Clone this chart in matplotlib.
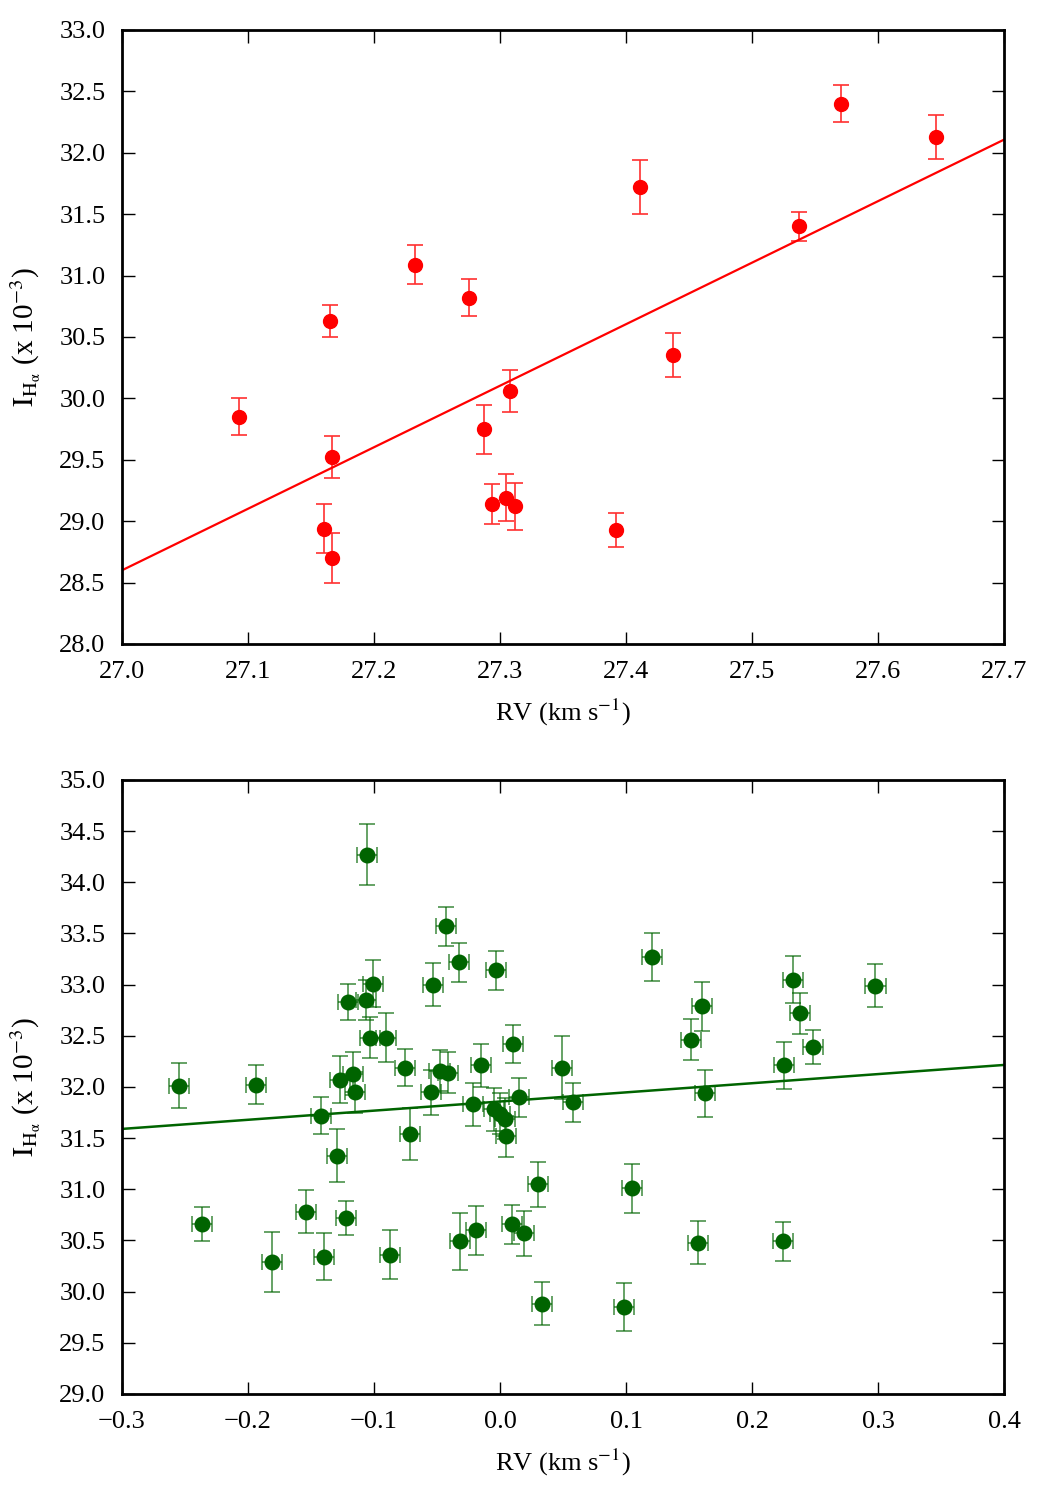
import numpy as np
import matplotlib
matplotlib.use("Agg")
import matplotlib.pyplot as plt

plt.rcParams['font.family'] = ['Liberation Serif', 'DejaVu Serif']
plt.rcParams['mathtext.fontset'] = 'stix'

# top panel: RV (km/s) vs I_Halpha (x 1e-3)
rv_top = [27.093, 27.165, 27.167, 27.160, 27.167, 27.2325, 27.275, 27.287, 27.294,
          27.305, 27.308, 27.312, 27.392, 27.411, 27.437, 27.537, 27.571, 27.646]
ih_top = [29.85, 30.63, 29.52, 28.94, 28.70, 31.09, 30.82, 29.75, 29.14,
          29.19, 30.06, 29.12, 28.93, 31.72, 30.35, 31.40, 32.40, 32.13]
ih_top_err = [0.15, 0.13, 0.17, 0.20, 0.20, 0.16, 0.15, 0.20, 0.16,
              0.19, 0.17, 0.19, 0.14, 0.22, 0.18, 0.12, 0.15, 0.18]
fit_top = [5.01, 28.60]   # slope, value at x0
x0_top = 27.0

# bottom panel: RV residuals
rv_bot = [-0.255, -0.2363, -0.1934, -0.1807, -0.1537, -0.1424, -0.140, -0.1297, -0.127,
          -0.122, -0.1206, -0.117, -0.115, -0.1063, -0.1053, -0.1032, -0.101, -0.0907,
          -0.087, -0.0754, -0.0714, -0.055, -0.0529, -0.048, -0.0431, -0.041, -0.0325,
          -0.0317, -0.0212, -0.0188, -0.0153, -0.005, 0.000, 0.004, 0.0048, -0.0029,
          0.0098, 0.0106, 0.0148, 0.0193, 0.0299, 0.0333, 0.0490, 0.0577, 0.0984,
          0.1048, 0.1204, 0.1513, 0.1574, 0.1601, 0.1627, 0.2243, 0.2256, 0.2325,
          0.2381, 0.2487, 0.298]
ih_bot = [32.01, 30.66, 32.02, 30.29, 30.78, 31.72, 30.34, 31.33, 32.07,
          30.72, 32.83, 32.13, 31.95, 32.85, 34.27, 32.48, 33.01, 32.48,
          30.36, 32.19, 31.54, 31.95, 33.00, 32.16, 33.57, 32.14, 33.22,
          30.49, 31.83, 30.60, 32.21, 31.78, 31.74, 31.69, 31.52, 33.14,
          30.66, 32.42, 31.90, 30.57, 31.05, 29.88, 32.19, 31.85, 29.85,
          31.01, 33.27, 32.46, 30.48, 32.79, 31.94, 30.49, 32.21, 33.05,
          32.72, 32.39, 32.99]
ih_bot_err = [0.22, 0.17, 0.19, 0.29, 0.21, 0.18, 0.23, 0.26, 0.23,
              0.17, 0.18, 0.21, 0.20, 0.20, 0.30, 0.20, 0.23, 0.24,
              0.24, 0.18, 0.25, 0.22, 0.21, 0.20, 0.19, 0.20, 0.19,
              0.28, 0.21, 0.24, 0.21, 0.21, 0.20, 0.20, 0.20, 0.19,
              0.19, 0.19, 0.19, 0.22, 0.22, 0.21, 0.31, 0.19, 0.23,
              0.24, 0.23, 0.20, 0.21, 0.24, 0.23, 0.19, 0.23, 0.23,
              0.20, 0.17, 0.21]
rv_bot_err = 0.008
fit_bot = [0.893, 31.858]  # slope, value at x0
x0_bot = 0.0

fig = plt.figure(figsize=(10.5, 15), dpi=100)
ax1 = fig.add_axes([0.1162, 0.5707, 0.84, 0.4093])
ax2 = fig.add_axes([0.1162, 0.0707, 0.84, 0.4093])

ylab = r'$\mathrm{I_{H_{\alpha}}}$ (x 10$^{-3}$)'
xlab = r'RV (km s$^{-1}$)'

# top
ax1.errorbar(rv_top, ih_top, yerr=ih_top_err, fmt='none', ecolor='#ff3030',
             elinewidth=1.2, capsize=6, capthick=1.2)
ax1.plot(rv_top, ih_top, 'o', color='red', markersize=10)
xx = np.array([27.0, 27.7])
ax1.plot(xx, fit_top[1] + fit_top[0] * (xx - x0_top), color='red', lw=1.6)
ax1.set_xlim(27.0, 27.7)
ax1.set_ylim(28.0, 33.0)
ax1.set_xticks(np.arange(27.0, 27.71, 0.1))
ax1.set_yticks(np.arange(28.0, 33.01, 0.5))
ax1.xaxis.set_major_formatter(plt.FormatStrFormatter('%.1f'))
ax1.yaxis.set_major_formatter(plt.FormatStrFormatter('%.1f'))

# bottom
ax2.errorbar(rv_bot, ih_bot, yerr=ih_bot_err, xerr=rv_bot_err, fmt='none',
             ecolor='darkgreen', alpha=0.65, elinewidth=1.3, capsize=6, capthick=1.3)
ax2.plot(rv_bot, ih_bot, 'o', color='darkgreen', markersize=10.5)
xx = np.array([-0.3, 0.4])
ax2.plot(xx, fit_bot[1] + fit_bot[0] * (xx - x0_bot), color='darkgreen', lw=1.8)
ax2.set_xlim(-0.3, 0.4)
ax2.set_ylim(29.0, 35.0)
ax2.set_xticks(np.arange(-0.3, 0.41, 0.1))
ax2.set_yticks(np.arange(29.0, 35.01, 0.5))
ax2.xaxis.set_major_formatter(plt.FuncFormatter(lambda v, p: ('%.1f' % v).replace('-', '\u2212') if abs(v) > 1e-9 else '0.0'))
ax2.yaxis.set_major_formatter(plt.FormatStrFormatter('%.1f'))

for ax in (ax1, ax2):
    ax.set_xlabel(xlab, fontsize=19, labelpad=10)
    ax.set_ylabel(ylab, fontsize=21, labelpad=12)
    ax.tick_params(direction='in', length=9, width=1, top=True, right=True,
                   labelsize=19, pad=12)
    for s in ax.spines.values():
        s.set_linewidth(2)

fig.savefig("out.png", dpi=100)
